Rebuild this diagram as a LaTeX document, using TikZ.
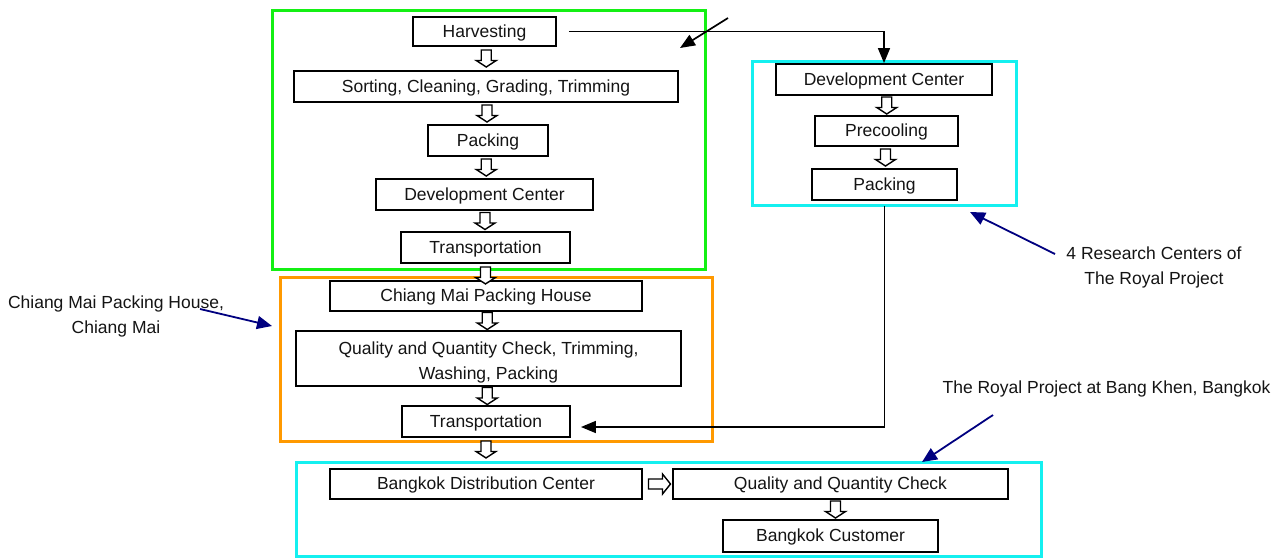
\documentclass[tikz,border=0pt]{standalone}
\usepackage{fontspec}
\setmainfont{Liberation Sans}
\usetikzlibrary{calc,arrows.meta}
\definecolor{frgreen}{RGB}{20,240,20}
\definecolor{frorange}{RGB}{255,153,0}
\definecolor{frcyan}{RGB}{20,240,240}
\definecolor{notenavy}{RGB}{0,0,128}
\definecolor{txt}{RGB}{20,20,20}
\begin{document}
\begin{tikzpicture}[x=1pt,y=-1pt,
  font=\fontsize{17.5}{25}\selectfont,
  stepbox/.style={draw=black, line width=1.9pt, fill=white, inner sep=0pt, align=center, text=txt, text height=13.5pt, text depth=2.5pt},
  frame/.style={line width=3pt},
  blkline/.style={draw=black, fill=white, line width=1.4pt, line join=miter},
  bdown/.pic={\path[blkline] (-5,-8.5) -- (5,-8.5) -- (5,2) -- (10,2) -- (0,8.5) -- (-10,2) -- (-5,2) -- cycle;},
  bright/.pic={\path[blkline] (-11,-5) -- (3,-5) -- (3,-10) -- (11,0) -- (3,10) -- (3,5) -- (-11,5) -- cycle;},
  link/.style={line width=1.7pt, -{Triangle[length=15pt,width=12pt]}},
  note/.style={line width=1.8pt, draw=notenavy, -{Triangle[length=15pt,width=13pt]}},
  lbl/.style={align=center, text=txt, inner sep=0pt}
]
\useasboundingbox (0,0) rectangle (1282,557);
\fill[white] (0,0) rectangle (1282,557);

% group frames
\draw[frame, draw=frgreen] (272,10) rectangle (705,269);
\draw[frame, draw=frorange] (280,277) rectangle (712,441);
\draw[frame, draw=frcyan] (752,61) rectangle (1016,205);
\draw[frame, draw=frcyan] (296,462) rectangle (1041,556);

% left column
\node[stepbox, minimum width=143pt, minimum height=29pt] (harv) at (484.5,31.5) {Harvesting};
\node[stepbox, minimum width=384pt, minimum height=31pt] (sort) at (486,86.5) {Sorting, Cleaning, Grading, Trimming};
\node[stepbox, minimum width=120pt, minimum height=31pt] (pack) at (488,140.5) {Packing};
\node[stepbox, minimum width=217pt, minimum height=31pt] (dev) at (484.5,194.5) {Development Center};
\node[stepbox, minimum width=169pt, minimum height=31pt] (trans) at (485.5,247.5) {Transportation};
\node[stepbox, minimum width=312pt, minimum height=30pt] (cmph) at (486,296) {Chiang Mai Packing House};
\node[draw=black, line width=1.9pt, fill=white, minimum width=385pt, minimum height=55pt,
  label={[lbl, yshift=-3.5pt]center:Quality and Quantity Check, Trimming,\\Washing, Packing}] (qual) at (488.5,358.5) {};
\node[stepbox, minimum width=168pt, minimum height=31pt] (trans2) at (486,421.5) {Transportation};

% right column
\node[stepbox, minimum width=216pt, minimum height=31pt] (dev2) at (884,79.5) {Development Center};
\node[stepbox, minimum width=143pt, minimum height=30pt] (prec) at (886.5,131) {Precooling};
\node[stepbox, minimum width=145pt, minimum height=31pt] (pack2) at (884.5,184.5) {Packing};

% bottom
\node[stepbox, minimum width=312pt, minimum height=30pt] (bdc) at (486,484) {Bangkok Distribution Center};
\node[stepbox, minimum width=335pt, minimum height=30pt] (qqc) at (840.5,484) {Quality and Quantity Check};
\node[stepbox, minimum width=215pt, minimum height=32pt] (cust) at (830.5,536) {Bangkok Customer};

% block arrows
\pic (b1) at ([xshift=1pt]$(harv.south)!.5!(sort.north)$) {bdown};
\pic (b2) at ($(sort.south)!.5!(pack.north)$) {bdown};
\pic (b3) at ($(pack.south)!.5!(dev.north)$) {bdown};
\pic (b4) at ($(dev.south)!.5!(trans.north)$) {bdown};
\pic (b5) at ([yshift=-11.5pt]trans.south) {bdown};
\pic (b6) at ($(cmph.south)!.5!(qual.north)$) {bdown};
\pic (b7) at ($(qual.south)!.5!(trans2.north)$) {bdown};
\pic (b8) at ([yshift=-11.5pt]trans2.south) {bdown};
\pic (b9) at ([xshift=1.5pt]$(dev2.south)!.5!(prec.north)$) {bdown};
\pic (b10) at ($(prec.south)!.5!(pack2.north)$) {bdown};
\pic (b11) at ([xshift=2pt]$(bdc.east)!.5!(qqc.west)$) {bright};
\pic (b12) at ($(qqc.south)!.5!(cust.north)$) {bdown};

% connectors
\draw[link] ([xshift=12pt]harv.east) -| (dev2.north);
\draw[link] ([yshift=-5pt]pack2.south) |- ([xshift=10pt,yshift=-5.5pt]trans2.east);
\coordinate (s1) at (728,18);
\coordinate (s2) at (680,48);
\draw[link] (s1) -- (s2);

% notes
\node[lbl] (lblrc) at (1154,267) {4 Research Centers of\\The Royal Project};
\node[lbl] (lblcm) at (116,316) {Chiang Mai Packing House,\\Chiang Mai};
\node[lbl] (lblrp) at (1106.5,389) {The Royal Project at Bang Khen, Bangkok};
\coordinate (n1a) at (1055,254);
\coordinate (n1b) at (970,212);
\draw[note] (n1a) -- (n1b);
\coordinate (n2a) at (200,309);
\coordinate (n2b) at (272,326);
\draw[note] (n2a) -- (n2b);
\coordinate (n3a) at (993,415);
\coordinate (n3b) at (922,462);
\draw[note] (n3a) -- (n3b);
\end{tikzpicture}
\end{document}
